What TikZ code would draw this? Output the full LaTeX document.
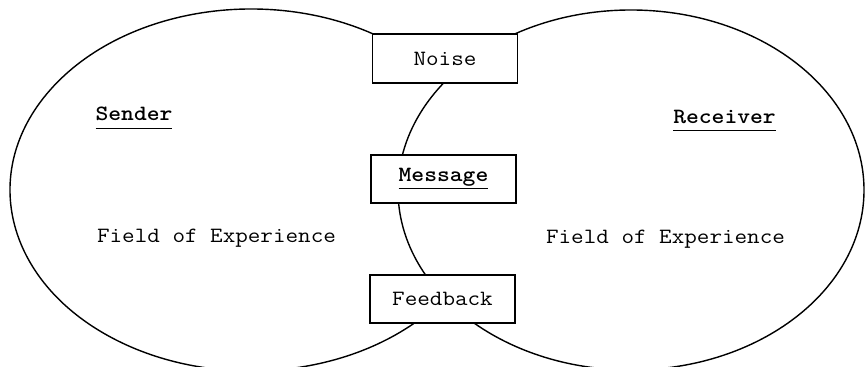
\documentclass[tikz,border=0pt]{standalone}
\usepackage{fontspec}
\setmonofont{lmmono12-regular.otf}[BoldFont=lmmonolt10-bold.otf,FakeStretch=1.12]
\newcommand{\ulb}[1]{\underline{\vphantom{g}\textbf{#1}}}

\begin{document}
\begin{tikzpicture}[every node/.style={font=\ttfamily\fontsize{12.4}{14}\selectfont},
  rim/.style={line width=0.8pt},
  bx/.style={draw,line width=1pt,fill=white,inner sep=2pt,minimum width=2.9cm,minimum height=0.97cm}]
\useasboundingbox (0,0) rectangle (17.3,7.34);
\def\cy{3.54}
%------------- two fields of experience
\draw[rim] (5.02,\cy) ++(55:4.82 and 3.62) arc[start angle=55,end angle=316,x radius=4.82,y radius=3.62];
\draw[rim] (12.62,\cy) ellipse [x radius=4.66,y radius=3.6];
%------------- channel boxes
\node[bx] (noise) at (8.90,6.17) {Noise};
\node[bx] (msg) at (8.87,3.76) {\ulb{Message}};
\node[bx] (fb) at (8.85,1.36) {Feedback};
%------------- labels
\node (sender) at (2.68,4.98) {\ulb{Sender}};
\node (receiver) at (14.49,4.92) {\ulb{Receiver}};
\node (fieldL) at (4.33,2.58) {Field of Experience};
\node (fieldR) at (13.31,2.56) {Field of Experience};
\end{tikzpicture}
\end{document}
